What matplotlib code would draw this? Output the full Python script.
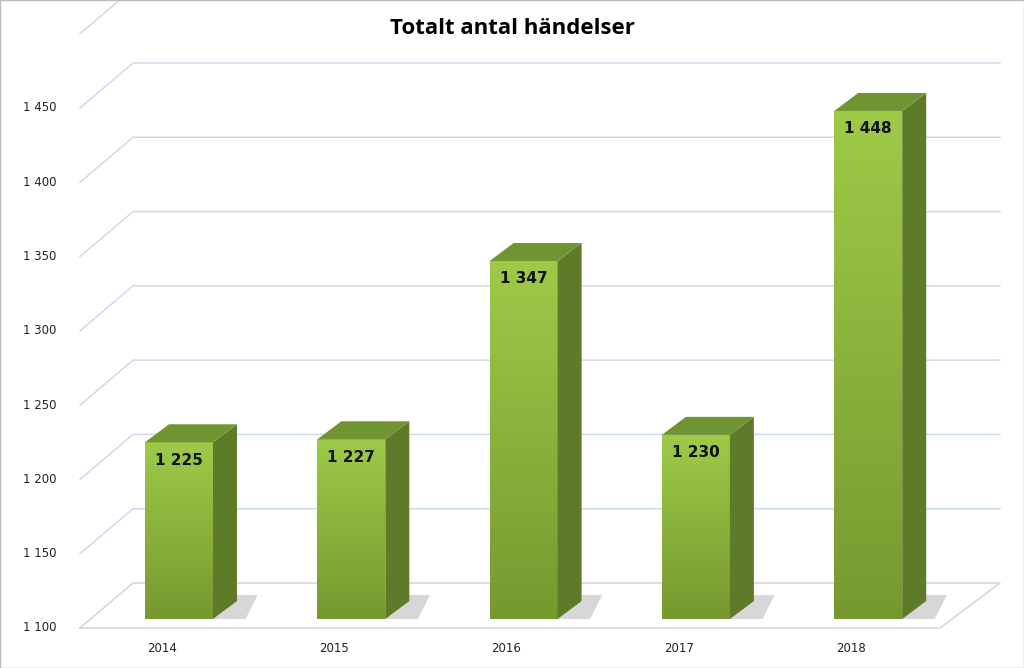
import numpy as np
import matplotlib
matplotlib.use("Agg")
import matplotlib.pyplot as plt
from matplotlib.patches import Polygon, Rectangle

years = ["2014", "2015", "2016", "2017", "2018"]
values = [1225, 1227, 1347, 1230, 1448]
yticks = [1100, 1150, 1200, 1250, 1300, 1350, 1400, 1450]
ytick_labels = ["1 100", "1 150", "1 200", "1 250", "1 300", "1 350", "1 400", "1 450"]
value_labels = ["1 225", "1 227", "1 347", "1 230", "1 448"]

fig = plt.figure(figsize=(10.24, 6.68), dpi=100)
ax = fig.add_axes([0, 0, 1, 1])
ppu = 520 / 350.0
sp = 172.3
ax.set_xlim(-179 / sp, (1024 - 179) / sp)
ax.set_ylim(1100 - 40 / ppu, 1450 + 108 / ppu)
ax.axis("off")

def px(p):  # pixel x -> data x
    return (p - 179) / sp

# walls / grid
wdx, wdy = 53 / sp, 45 / ppu
x_front, x_back_end = px(80), px(1000)
grid_c = "#c8d8ea"
for v in yticks[1:] + [1500]:
    vf = v if v <= 1450 else None
    ax.plot([x_front, x_front + wdx, x_back_end], [v, v + wdy, v + wdy], color=grid_c, lw=1, zorder=1)
# floor
floor_c = "#d0d0d0"
ax.plot([x_front, px(940), x_back_end, x_front + wdx, x_front],
        [1100, 1100, 1100 + wdy, 1100 + wdy, 1100], color=floor_c, lw=1, zorder=1)

for t, lab in zip(yticks, ytick_labels):
    ax.text(px(40), t, lab, ha="center", va="center", fontsize=8.5, color="#222222", family="DejaVu Sans")

w = 68 / sp
ddx, ddy = 24 / sp, 18 / ppu
base = 1100 + 9 / ppu
grad = np.linspace(0, 1, 256).reshape(-1, 1)
from matplotlib.colors import LinearSegmentedColormap
cmap = LinearSegmentedColormap.from_list("g", ["#76992f", "#9fca48"])
for i, (v, lab, yr) in enumerate(zip(values, value_labels, years)):
    x0, x1 = i - w / 2, i + w / 2
    # shadow
    sh = Polygon([(x0, base), (x1 + ddx + 0.05, base), (x1 + ddx + 0.12, base + ddy + 4),
                  (x0 + 0.1, base + ddy + 4)], closed=True, fc="#bdbdbd", ec="none", alpha=0.6, zorder=2)
    ax.add_patch(sh)
    im = ax.imshow(grad, extent=[x0, x1, base, v], origin="lower", cmap=cmap, aspect="auto", zorder=3)
    im.set_clip_path(Rectangle((x0, base), w, v - base, transform=ax.transData))
    ax.add_patch(Polygon([(x1, base), (x1 + ddx, base + ddy), (x1 + ddx, v + ddy), (x1, v)],
                         closed=True, fc="#5e7b29", ec="none", zorder=3))
    ax.add_patch(Polygon([(x0, v), (x1, v), (x1 + ddx, v + ddy), (x0 + ddx, v + ddy)],
                         closed=True, fc="#6f9431", ec="none", zorder=3))
    ax.text(i, v - 12, lab, ha="center", va="center", fontsize=11, fontweight="bold", color="#111111", zorder=4)
    ax.text(i - 0.1, 1100 - 14, yr, ha="center", va="center", fontsize=8.5, color="#222222")

ax.set_xlim(-179 / sp, (1024 - 179) / sp)
ax.set_ylim(1100 - 40 / ppu, 1450 + 108 / ppu)
fig.text(0.5, 1 - 28 / 668, "Totalt antal händelser", ha="center", va="center",
         fontsize=16, fontweight="bold", family="Open Sans")
fig.patches.append(Rectangle((0, 0), 1, 1, transform=fig.transFigure, fill=False, ec="#bbbbbb", lw=1))
fig.savefig("out.png", dpi=100)
